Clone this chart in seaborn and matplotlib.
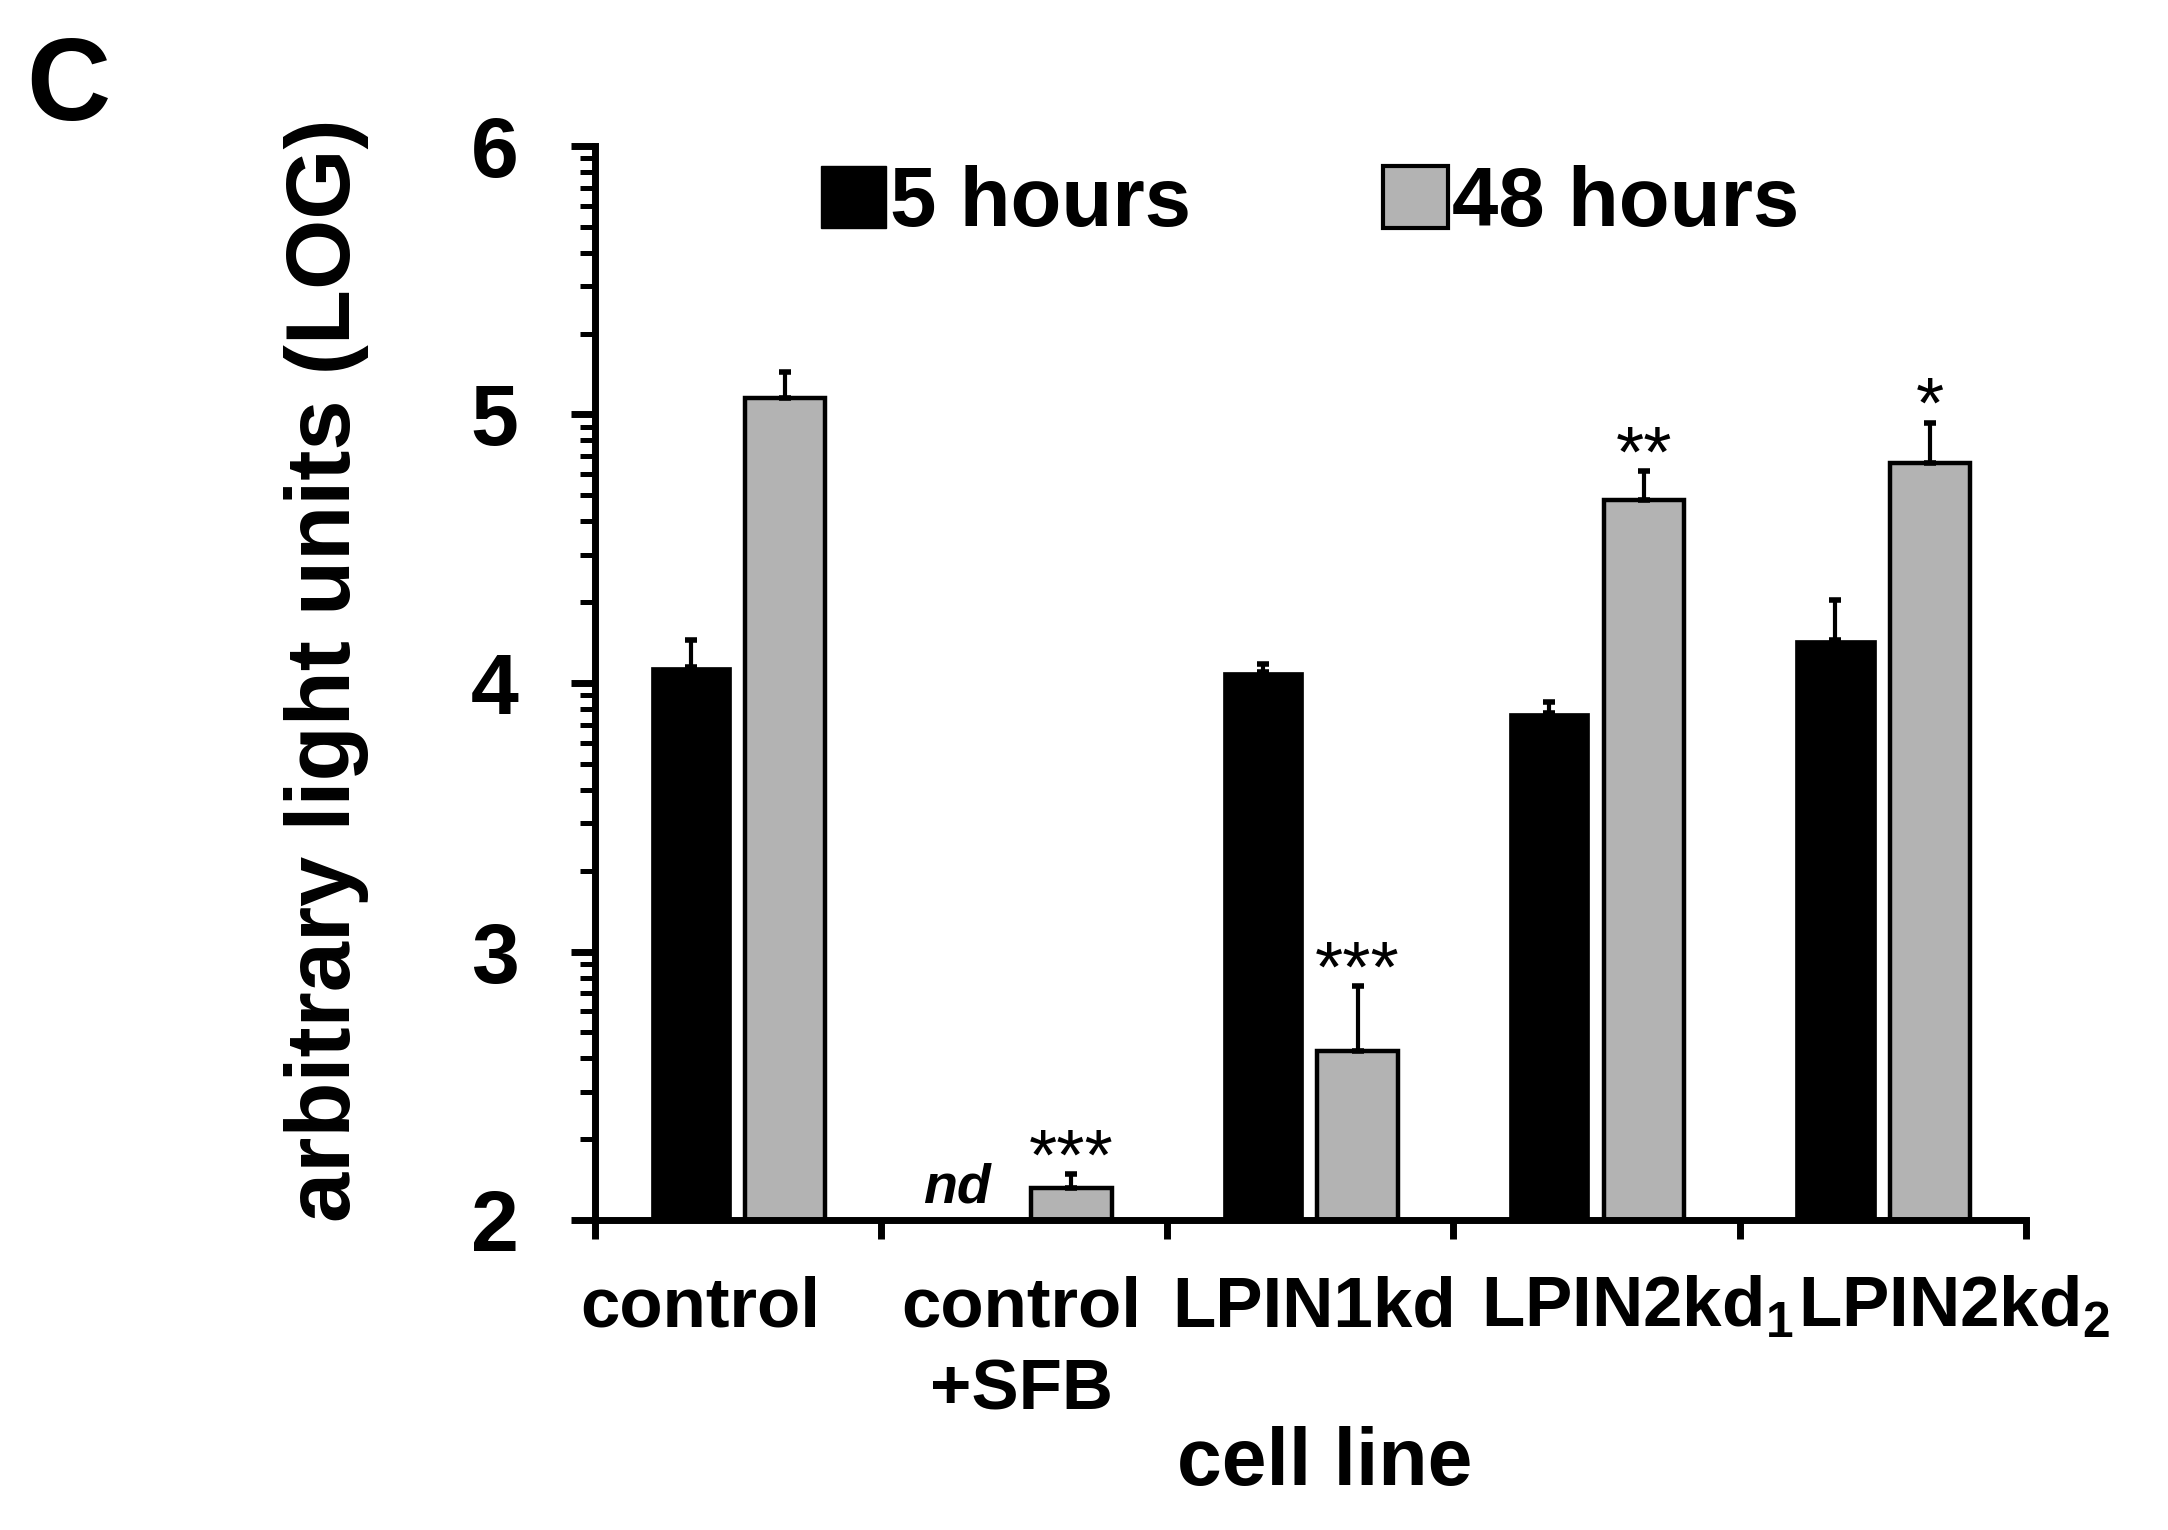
import numpy as np
import pandas as pd
import matplotlib.pyplot as plt
import matplotlib.transforms as mtrans
import seaborn as sns
from matplotlib.patches import Patch
from matplotlib.ticker import FixedLocator

# values (log10 light units)
cell_lines = ['control', 'control\n+SFB', 'LPIN1kd', 'LPIN2kd$_1$', 'LPIN2kd$_2$']
times = ['5 hours', '48 hours']
mean_5h = [4.06, np.nan, 4.04, 3.89, 4.16]
mean_48h = [5.06, 2.12, 2.63, 4.68, 4.82]
err_5h = [0.10, np.nan, 0.03, 0.04, 0.15]
err_48h = [0.10, 0.05, 0.24, 0.11, 0.15]
stars_48h = ['', '***', '***', '**', '*']
colors = ['black', '#b3b3b3']

sns.set_theme(style='ticks')
plt.rcParams['font.family'] = ['Liberation Sans', 'DejaVu Sans']
plt.rcParams['font.weight'] = 'bold'
for k in ['text.color', 'axes.labelcolor', 'xtick.color', 'ytick.color', 'axes.edgecolor']:
    plt.rcParams[k] = 'black'
plt.rcParams['mathtext.fontset'] = 'custom'
plt.rcParams['mathtext.rm'] = 'Liberation Sans:bold'
plt.rcParams['mathtext.it'] = 'Liberation Sans:italic:bold'
plt.rcParams['mathtext.bf'] = 'Liberation Sans:bold'

df = pd.DataFrame({
    'cell line': cell_lines * 2,
    'time': [times[0]] * 5 + [times[1]] * 5,
    'value': mean_5h + mean_48h,
})

fig = plt.figure(figsize=(21.68, 15.30), dpi=100)
ax = fig.add_axes([0.2744, 0.2026, 0.660, 0.702])
sns.barplot(data=df, x='cell line', y='value', hue='time', hue_order=times,
            palette=colors, width=0.66, gap=0.15, errorbar=None, legend=False, ax=ax)

errs = {times[0]: err_5h, times[1]: err_48h}
vals = {times[0]: mean_5h, times[1]: mean_48h}
for t, cont in zip(times, ax.containers):
    xs, ys, es = [], [], []
    for p in cont.patches:
        h = p.get_height()
        if np.isnan(h):
            continue
        xc = p.get_x() + p.get_width() / 2
        i = int(round(xc))
        xs.append(xc); ys.append(vals[t][i]); es.append(errs[t][i])
        p.set_edgecolor('black')
        p.set_linewidth(3.2 if t == times[1] else 0.5)
    ax.errorbar(xs, ys, yerr=[np.zeros(len(es)), es], fmt='none', ecolor='black',
                elinewidth=3, capsize=4, capthick=4, zorder=3)
    if t == times[1]:
        for xc, y, e in zip(xs, ys, es):
            s = stars_48h[int(round(xc))]
            if s:
                ax.text(xc, y + e - 0.02, s, ha='center', va='baseline', fontsize=52,
                        fontweight='normal')

# not detected
for k, v in enumerate(mean_5h):
    if np.isnan(v):
        ax.text(k - 0.235, 2.065, 'nd', ha='center', va='baseline', fontsize=40,
                fontstyle='italic', fontweight='bold')

ax.set_ylim(2, 6)
ax.set_xlim(-0.5, 4.5)
ax.set_yticks([2, 3, 4, 5, 6])
minor = [n + np.log10(k) for n in range(2, 6) for k in range(2, 10)]
ax.yaxis.set_minor_locator(FixedLocator(minor))
ax.tick_params(axis='y', which='major', length=17, width=5, labelsize=62, pad=38)
ax.tick_params(axis='y', which='minor', length=11, width=3.6)

ax.set_xticks(np.arange(-0.5, 5, 1))
ax.set_xticklabels([])
ax.set_xticks(range(5), minor=True)
ax.set_xticklabels(cell_lines, minor=True, linespacing=1.33)
ax.tick_params(axis='x', which='major', length=14, width=5)
ax.tick_params(axis='x', which='minor', length=0, labelsize=51, pad=40)
# the category labels sit a little off-centre in the original
label_shift = [-27, -2, 3, 29, 51]
for lab, dx in zip(ax.get_xticklabels(minor=True), label_shift):
    lab.set_transform(lab.get_transform() + mtrans.ScaledTranslation(dx / 72, 0, fig.dpi_scale_trans))

for s in ['left', 'bottom']:
    ax.spines[s].set_linewidth(5)
sns.despine(ax=ax)

ax.set_ylabel('arbitrary light units (LOG)', fontsize=65, fontweight='bold')
ax.yaxis.set_label_coords(-0.158, 0.512)
ax.set_xlabel('cell line', fontsize=58, fontweight='bold')
ax.xaxis.set_label_coords(0.51, -0.192)

handles = [Patch(facecolor=colors[0], edgecolor='black', linewidth=1),
           Patch(facecolor=colors[1], edgecolor='black', linewidth=3)]
ax.legend(handles, times, loc='upper center', bbox_to_anchor=(0.5, 1.052), ncol=2,
          frameon=False, fontsize=60, handlelength=0.78, handleheight=0.78,
          handletextpad=0.05, columnspacing=2.3)

fig.text(0.0314, 0.9418, 'C', fontsize=84, fontweight='bold', ha='center', va='center')

fig.savefig('out.png', dpi=100)
